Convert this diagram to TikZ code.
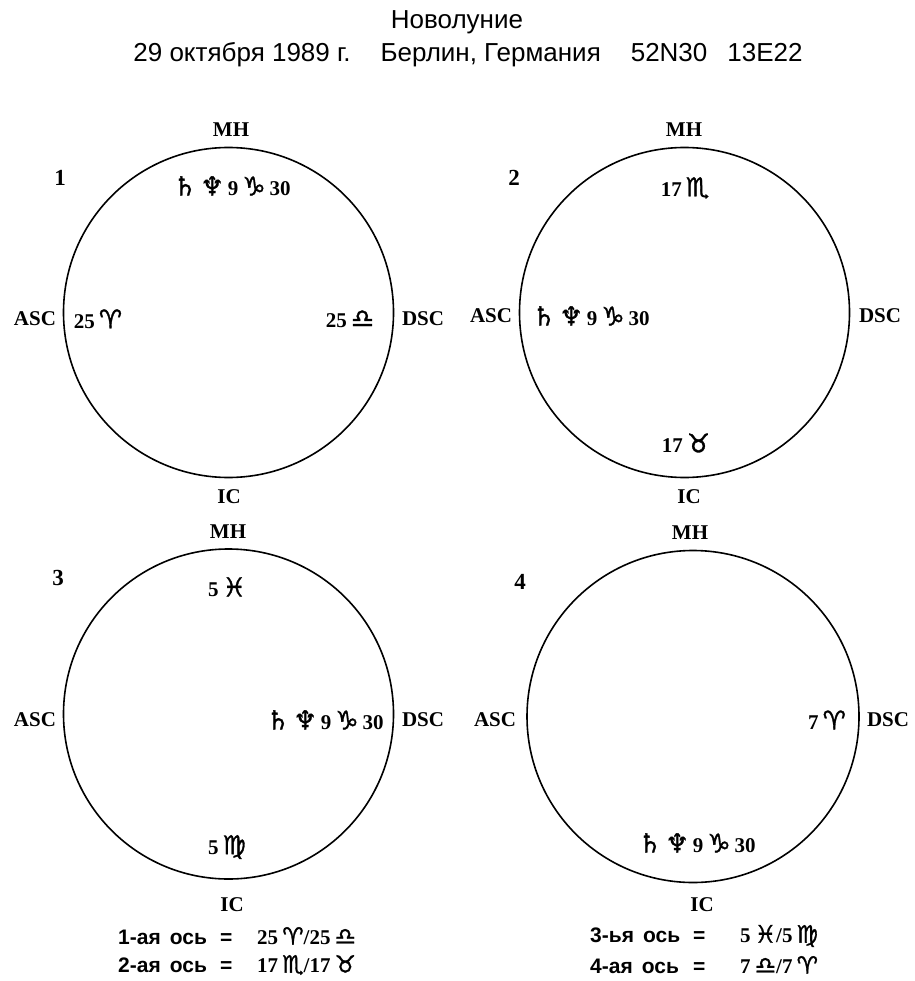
\documentclass[tikz,border=0pt]{standalone}
\usepackage{fontspec}
\setmainfont{Liberation Serif}
\newfontfamily\titlefont{Liberation Sans}
\newfontfamily\symf[FakeBold=1.2]{DejaVu Sans}
\newcommand{\zs}[1]{{\symf\mdseries\fontsize{26}{28}\selectfont #1}}
\newcommand{\zt}[1]{{\symf\mdseries\fontsize{24}{26}\selectfont #1}}
\newcommand{\gp}{\hspace{4pt}}
\begin{document}
\begin{tikzpicture}[x=1pt,y=-1pt,
  wheel/.style={circle,draw,line width=1.6pt,minimum size=330pt,inner sep=0pt},
  lbl/.style={font=\fontsize{21}{24}\selectfont\bfseries,inner sep=0pt},
  numlbl/.style={font=\fontsize{23}{26}\selectfont\bfseries,inner sep=0pt},
  planet/.style={font=\fontsize{21}{24}\selectfont\bfseries,inner sep=0pt},
  ttl/.style={font=\titlefont\fontsize{26}{30}\selectfont,inner sep=0pt},
  axis/.style={font=\titlefont\fontsize{21}{24}\selectfont\bfseries,inner sep=0pt,anchor=west}]
\useasboundingbox (0,0) rectangle (914,981);
\fill[white] (0,0) rectangle (914,981);

% titles
\node[ttl] (t1) at (457,22) {Новолуние};
\node[ttl] (t2) at (468,55) {29 октября 1989 г.\hspace{30pt}Берлин, Германия\hspace{30pt}52N30\hspace{20pt}13E22};

% wheels
\node[wheel] (c1) at (228.5,312.5) {};
\node[wheel] (c2) at (684.5,312.5) {};
\node[wheel] (c3) at (228.5,714) {};
\node[wheel,minimum size=332pt] (c4) at (693,716.5) {};

% chart 1
\node[lbl] (mh1) at (231,130) {MH};
\node[lbl] (ic1) at (229,497) {IC};
\node[lbl] (asc1) at (35,319) {ASC};
\node[lbl] (dsc1) at (423,319) {DSC};
\node[numlbl] (n1) at (60,178) {1};
\node[planet] (p1a) at (232,186) {\zs{♄}\gp\zs{♆}\gp9\gp\zs{♑}\gp30};
\node[planet] (p1b) at (98,319) {25\gp\zs{♈}};
\node[planet] (p1c) at (350,319) {25\gp\zs{♎}};

% chart 2
\node[lbl] (mh2) at (684,130) {MH};
\node[lbl] (ic2) at (689,497) {IC};
\node[lbl] (asc2) at (491,316) {ASC};
\node[lbl] (dsc2) at (880,316) {DSC};
\node[numlbl] (n2) at (514,178) {2};
\node[planet] (p2a) at (685,188) {17\gp\zs{♏}};
\node[planet] (p2b) at (591,316) {\zs{♄}\gp\zs{♆}\gp9\gp\zs{♑}\gp30};
\node[planet] (p2c) at (686,443) {17\gp\zs{♉}};

% chart 3
\node[lbl] (mh3) at (228,532) {MH};
\node[lbl] (ic3) at (232,905) {IC};
\node[lbl] (asc3) at (35,720) {ASC};
\node[lbl] (dsc3) at (423,720) {DSC};
\node[numlbl] (n3) at (58,578) {3};
\node[planet] (p3a) at (227,587) {5\gp\zs{♓}};
\node[planet] (p3b) at (325,720) {\zs{♄}\gp\zs{♆}\gp9\gp\zs{♑}\gp30};
\node[planet] (p3c) at (227,847) {5\gp\zs{♍}};

% chart 4
\node[lbl] (mh4) at (690,533) {MH};
\node[lbl] (ic4) at (702,905) {IC};
\node[lbl] (asc4) at (495,720) {ASC};
\node[lbl] (dsc4) at (888,720) {DSC};
\node[numlbl] (n4) at (520,582) {4};
\node[planet] (p4a) at (827,720) {7\gp\zs{♈}};
\node[planet] (p4b) at (697,843) {\zs{♄}\gp\zs{♆}\gp9\gp\zs{♑}\gp30};

% axes
\node[axis] (ax1) at (118,936) {\makebox[102pt][l]{1-ая\hspace{9pt}ось}\makebox[37pt][l]{=}{\rmfamily 25\gp\zt{♈}/25\gp\zt{♎}}};
\node[axis] (ax2) at (118,965) {\makebox[102pt][l]{2-ая\hspace{9pt}ось}\makebox[37pt][l]{=}{\rmfamily 17\gp\zt{♏}/17\gp\zt{♉}}};
\node[axis] (ax3) at (590,936) {\makebox[103pt][l]{3-ья\hspace{9pt}ось}\makebox[47pt][l]{=}{\rmfamily 5\gp\zt{♓}/5\gp\zt{♍}}};
\node[axis] (ax4) at (590,965) {\makebox[103pt][l]{4-ая\hspace{9pt}ось}\makebox[47pt][l]{=}{\rmfamily 7\gp\zt{♎}/7\gp\zt{♈}}};
\end{tikzpicture}
\end{document}
